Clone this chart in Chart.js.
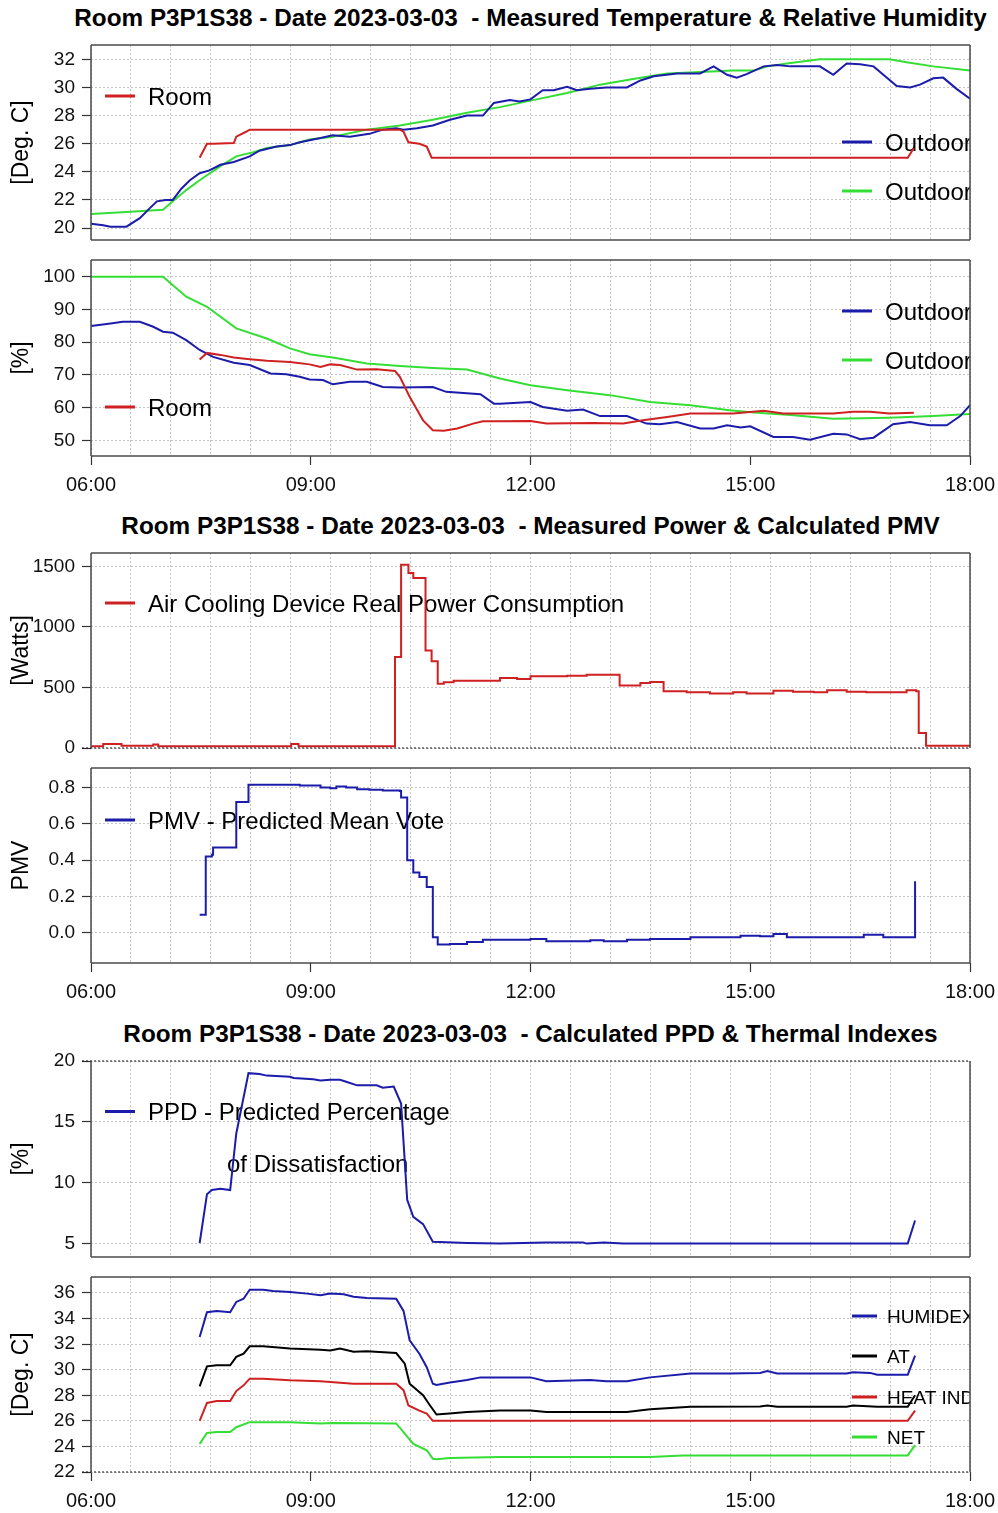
<!DOCTYPE html>
<html><head><meta charset="utf-8">
<script src="https://cdn.jsdelivr.net/npm/chart.js@4.4.0/dist/chart.umd.min.js"></script>
<style>
html,body{margin:0;padding:0;background:#fff;}
body{width:998px;height:1513px;position:relative;overflow:hidden;font-family:'Liberation Sans',Arial,sans-serif;}
.title{position:absolute;left:0;width:1061px;text-align:center;font-weight:bold;font-size:24.3px;line-height:28px;white-space:pre;color:#000;}
.panel{position:absolute;left:0;width:1010px;}
</style></head><body>
<div class="title" style="top:4px">Room P3P1S38 - Date 2023-03-03  - Measured Temperature &amp; Relative Humidity</div>
<div class="title" style="top:512px">Room P3P1S38 - Date 2023-03-03  - Measured Power &amp; Calculated PMV</div>
<div class="title" style="top:1020px">Room P3P1S38 - Date 2023-03-03  - Calculated PPD &amp; Thermal Indexes</div>
<script>
// ---------- axis / tick data ----------
const X_MIN = 6, X_MAX = 18;
const xTickHours = [6, 9, 12, 15, 18];
const xTickLabels = ['06:00', '09:00', '12:00', '15:00', '18:00'];
const xGridHours = Array.from({length: 23}, (_, i) => 6 + i * 12 / 22);

const tempTicks = [20, 22, 24, 26, 28, 30, 32];
const rhTicks = [50, 60, 70, 80, 90, 100];
const powerTicks = [0, 500, 1000, 1500];
const pmvTicks = [0, 0.2, 0.4, 0.6, 0.8];
const ppdTicks = [5, 10, 15, 20];
const indexTicks = [22, 24, 26, 28, 30, 32, 34, 36];

// ---------- series ----------
const roomTempTime = ['07:29','07:35','07:40','07:57','07:59','08:07','08:10','10:13','10:16','10:20','10:29','10:35','10:39','17:09','17:14'];
const roomTempVal  = [25.0,26.0,26.0,26.05,26.5,26.85,27.0,27.0,26.85,26.1,26.0,25.8,25.0,25.0,25.7];

const outTempATime = ['06:00','06:10','06:16','06:29','06:40','06:48','06:54','07:01','07:07','07:14','07:21','07:29','07:37','07:46','07:57','08:10','08:18','08:32','08:43','08:51','09:08','09:18','09:32','09:48','09:59','10:10','10:16','10:27','10:40','10:54','11:08','11:21','11:30','11:43','11:51','12:00','12:10','12:19','12:30','12:38','12:49','13:02','13:19','13:30','13:41','14:00','14:19','14:30','14:41','14:49','14:57','15:11','15:22','15:33','15:57','16:08','16:19','16:30','16:41','16:49','17:00','17:11','17:19','17:30','17:38','17:49','18:00'];
const outTempAVal  = [20.3,20.2,20.1,20.1,20.7,21.4,21.9,22.0,22.0,22.8,23.4,23.9,24.1,24.5,24.7,25.1,25.5,25.8,25.9,26.1,26.4,26.6,26.5,26.7,27.0,27.1,27.0,27.1,27.3,27.7,28.0,28.0,28.9,29.1,29.0,29.15,29.8,29.8,30.05,29.8,29.9,30.0,30.0,30.5,30.8,31.0,31.0,31.5,30.9,30.7,30.95,31.5,31.6,31.5,31.5,30.9,31.7,31.65,31.5,30.9,30.1,30.0,30.2,30.65,30.7,29.9,29.2];

const outTempBTime = ['06:00','06:29','06:59','07:07','07:18','07:29','07:46','07:59','08:13','08:24','08:43','08:59','09:18','09:46','10:13','10:40','11:08','11:35','12:02','12:30','12:57','13:24','13:52','14:19','14:46','15:03','15:14','15:30','15:57','16:22','16:54','17:08','17:30','18:00'];
const outTempBVal  = [21.0,21.15,21.3,21.9,22.7,23.4,24.4,25.1,25.4,25.7,25.9,26.3,26.5,27.0,27.3,27.7,28.2,28.6,29.1,29.6,30.2,30.6,31.0,31.1,31.2,31.2,31.5,31.7,32.0,32.0,32.0,31.8,31.5,31.2];

const outRhATime = ['06:00','06:16','06:26','06:40','06:51','06:59','07:07','07:18','07:29','07:40','07:57','08:10','08:27','08:40','08:51','08:59','09:10','09:18','09:32','09:46','09:59','10:13','10:40','10:51','11:19','11:30','11:35','12:00','12:10','12:30','12:43','12:57','13:19','13:35','13:46','14:00','14:19','14:30','14:41','14:52','15:00','15:19','15:35','15:49','16:08','16:19','16:30','16:41','16:57','17:11','17:27','17:41','17:52','18:00'];
const outRhAVal  = [84.9,85.7,86.2,86.2,84.7,83.2,82.9,80.6,77.6,75.5,73.7,73.0,70.4,70.2,69.4,68.6,68.4,67.1,67.9,67.9,66.3,66.1,66.3,64.8,64.1,61.2,61.2,61.7,60.2,59.0,59.4,57.4,57.4,55.1,54.9,55.6,53.6,53.6,54.6,53.9,54.3,51.0,51.0,50.2,52.0,51.8,50.3,50.8,54.9,55.6,54.6,54.6,57.4,60.7];

const outRhBTime = ['06:00','06:59','07:18','07:35','07:59','08:24','08:43','08:59','09:18','09:46','10:13','10:40','11:08','11:35','12:00','12:30','13:05','13:38','14:11','14:43','15:03','15:33','16:08','16:54','17:30','18:00'];
const outRhBVal  = [100,100,93.9,90.8,84.2,81.1,78.1,76.3,75.3,73.5,72.7,72.1,71.6,68.9,66.8,65.3,63.8,61.7,60.7,59.2,58.5,57.7,56.6,56.9,57.4,58.0];

const roomRhTime = ['07:29','07:35','07:46','07:57','08:10','08:24','08:43','08:59','09:08','09:16','09:24','09:38','09:54','10:09','10:13','10:21','10:32','10:40','10:49','11:00','11:13','11:21','11:35','12:00','12:13','12:51','13:16','13:32','13:52','14:11','14:46','15:11','15:27','16:08','16:24','16:38','16:54','17:14'];
const roomRhVal  = [74.7,76.7,76.1,75.3,74.8,74.3,73.9,73.2,72.4,73.2,73.0,71.6,71.7,71.2,69.4,63.3,56.1,53.1,52.9,53.6,55.1,55.8,55.8,55.9,55.1,55.3,55.1,56.1,57.1,58.2,58.2,59.0,58.2,58.2,58.7,58.7,58.2,58.4];

const powerTime = ['06:00','06:10','06:25','06:51','06:55','08:44','08:50','10:09','10:14','10:20','10:24','10:34','10:39','10:44','10:49','10:57','11:35','11:49','12:00','12:30','12:46','13:13','13:30','13:38','13:49','14:08','14:27','14:46','14:57','15:19','15:35','15:52','16:03','16:19','16:35','17:08','17:16','17:18','17:24','18:00'];
const powerVal  = [14,33,19,28,14,33,14,751,1514,1445,1404,804,716,531,542,556,578,570,592,597,605,517,537,545,468,460,449,460,449,473,465,460,476,465,460,476,468,124,19,19];

const pmvTime = ['07:29','07:34','07:39','07:40','07:59','08:09','08:43','08:51','09:08','09:16','09:21','09:29','09:38','09:48','09:59','10:13','10:14','10:19','10:24','10:29','10:35','10:40','10:44','10:54','11:08','11:21','11:35','12:00','12:13','12:49','13:00','13:19','13:38','14:11','14:52','15:08','15:19','15:30','16:08','16:33','16:49','17:15'];
const pmvVal  = [0.10,0.42,0.43,0.47,0.72,0.815,0.815,0.81,0.80,0.796,0.805,0.80,0.79,0.787,0.783,0.78,0.745,0.40,0.333,0.307,0.253,-0.024,-0.064,-0.06,-0.05,-0.037,-0.037,-0.033,-0.046,-0.04,-0.046,-0.037,-0.033,-0.024,-0.015,-0.018,-0.005,-0.024,-0.024,-0.01,-0.024,0.284];

const ppdTime = ['07:29','07:35','07:39','07:46','07:54','07:59','08:09','08:18','08:24','08:43','08:46','09:02','09:08','09:16','09:24','09:29','09:38','09:54','09:59','10:08','10:14','10:19','10:24','10:32','10:40','11:08','11:35','12:13','12:43','12:46','13:00','13:16','17:09','17:15'];
const ppdVal  = [5.05,9.06,9.4,9.5,9.4,14.05,19.0,18.93,18.8,18.7,18.6,18.5,18.4,18.45,18.45,18.3,18.0,18.0,17.8,17.9,16.5,8.6,7.2,6.6,5.15,5.05,5.0,5.1,5.1,5.0,5.1,5.0,5.0,6.9];

const humidexTime = ['07:29','07:35','07:43','07:54','07:59','08:05','08:10','08:21','08:29','08:43','08:57','09:08','09:16','09:27','09:35','09:46','10:10','10:16','10:21','10:29','10:35','10:40','10:43','10:54','11:08','11:19','11:35','12:00','12:13','12:49','13:02','13:19','13:38','14:11','14:43','15:08','15:14','15:22','16:19','16:24','16:38','16:44','17:09','17:15'];
const humidexVal  = [32.56,34.5,34.6,34.5,35.3,35.55,36.26,36.26,36.15,36.08,35.95,35.82,35.95,35.9,35.7,35.6,35.55,34.6,32.3,31.25,30.2,28.9,28.8,29.0,29.2,29.4,29.4,29.4,29.1,29.2,29.1,29.1,29.4,29.7,29.7,29.75,29.9,29.7,29.7,29.8,29.75,29.6,29.6,31.1];

const atTime = ['07:29','07:35','07:43','07:54','07:59','08:05','08:10','08:21','08:43','09:08','09:16','09:24','09:35','09:46','10:10','10:17','10:21','10:32','10:37','10:43','10:51','11:08','11:35','12:00','12:13','13:19','13:38','14:11','15:08','15:14','15:22','16:19','16:24','16:44','17:09','17:15'];
const atVal  = [28.7,30.26,30.34,30.34,31.0,31.25,31.83,31.83,31.65,31.57,31.5,31.65,31.4,31.45,31.3,30.47,28.9,28.0,27.3,26.5,26.56,26.7,26.8,26.8,26.7,26.7,26.9,27.1,27.13,27.2,27.1,27.1,27.2,27.1,27.1,28.0];

const heatIndexTime = ['07:29','07:35','07:43','07:54','07:59','08:05','08:10','08:21','08:43','09:08','09:35','10:10','10:16','10:20','10:29','10:35','10:40','17:09','17:15'];
const heatIndexVal  = [26.0,27.4,27.55,27.55,28.33,28.78,29.3,29.3,29.17,29.1,28.9,28.9,28.4,27.2,26.8,26.56,26.0,26.0,26.8];

const netTime = ['07:29','07:35','07:43','07:54','07:59','08:10','08:43','09:08','09:18','10:10','10:17','10:24','10:35','10:40','10:43','10:54','11:35','13:38','14:05','17:09','17:15'];
const netVal  = [24.2,25.05,25.13,25.13,25.5,25.9,25.9,25.8,25.83,25.8,25.0,24.2,23.7,23.04,23.0,23.1,23.17,23.17,23.3,23.3,24.1];

// ---------- helpers ----------
const C_RED = '#cf2121', C_BLUE = '#1c1caa', C_GREEN = '#35de35', C_BLACK = '#000000';
const GRID_COLOR = '#c4c4c4';
const FONT = "'Liberation Sans', Arial, sans-serif";
function toH(t){ const p = t.split(':').map(Number); return p[0] + p[1] / 60; }
function pts(times, vals){ return times.map((t, i) => ({x: toH(t), y: vals[i]})); }

Chart.defaults.font.family = FONT;
Chart.defaults.color = '#000';

const legendPlugin = {
  id: 'rlegend',
  beforeDatasetsDraw(chart, args, opts) {
    const items = opts.items || [];
    const {ctx, chartArea: {left, top, right, bottom}} = chart;
    ctx.save();
    ctx.beginPath(); ctx.rect(left, top, right - left, bottom - top); ctx.clip();
    for (const it of items) {
      const ds = chart.data.datasets[it.ds];
      const y = top + it.dy;
      if (it.len) {
        ctx.strokeStyle = ds.borderColor; ctx.lineWidth = 3; ctx.setLineDash([]);
        ctx.beginPath(); ctx.moveTo(left + it.dx, y); ctx.lineTo(left + it.dx + it.len, y); ctx.stroke();
      }
      ctx.font = it.size + 'px ' + FONT;
      ctx.fillStyle = '#000'; ctx.textAlign = 'left'; ctx.textBaseline = 'alphabetic';
      ctx.fillText(it.text !== undefined ? it.text : ds.label, left + it.tx, y + 0.36 * it.size);
    }
    ctx.restore();
  }
};

const framePlugin = {
  id: 'frame',
  afterDatasetsDraw(chart, args, opts) {
    const dotted = opts.dotted || [];
    const {ctx, chartArea: {left, right, top, bottom}} = chart;
    const sides = {
      left: [left, top, left, bottom], right: [right, top, right, bottom],
      top: [left, top, right, top], bottom: [left, bottom, right, bottom]
    };
    ctx.save();
    for (const s of ['top', 'bottom', 'left', 'right']) {
      let [x1, y1, x2, y2] = sides[s];
      ctx.beginPath();
      if (dotted.includes(s)) {
        ctx.setLineDash([2, 2]); ctx.strokeStyle = '#111'; ctx.lineWidth = 1; x1 -= 9;
      } else {
        ctx.setLineDash([]); ctx.strokeStyle = '#4a4a4a'; ctx.lineWidth = 1.5;
      }
      ctx.moveTo(x1, y1); ctx.lineTo(x2, y2); ctx.stroke();
    }
    ctx.restore();
  }
};

function makePanel(cfg) {
  const PAD_T = 20, PAD_B = 20, XLAB_H = 45, PAD_R = 40;
  const div = document.createElement('div');
  div.className = 'panel';
  div.style.top = (cfg.boxTop - PAD_T) + 'px';
  div.style.height = ((cfg.boxBottom - cfg.boxTop) + PAD_T + (cfg.labeled ? XLAB_H : PAD_B)) + 'px';
  const cv = document.createElement('canvas');
  div.appendChild(cv);
  document.body.appendChild(div);
  new Chart(cv, {
    type: 'line',
    data: {
      datasets: cfg.datasets.map(d => ({
        label: d.label, data: d.data, borderColor: d.color, backgroundColor: d.color,
        borderWidth: 2, pointRadius: 0, stepped: d.stepped || false, fill: false, tension: 0,
        xAxisID: 'x', yAxisID: 'y'
      }))
    },
    options: {
      responsive: true, maintainAspectRatio: false, animation: false, events: [],
      layout: {padding: {top: PAD_T, left: 0, right: PAD_R, bottom: cfg.labeled ? 0 : PAD_B}},
      plugins: {legend: {display: false}, tooltip: {enabled: false},
        frame: {dotted: cfg.dotted || []}, rlegend: {items: cfg.legend}},
      scales: {
        x: {
          type: 'linear', min: X_MIN, max: X_MAX, position: 'bottom',
          afterBuildTicks: s => { s.ticks = xGridHours.map(v => ({value: v})); },
          afterFit: s => { s.height = 0; },
          ticks: {display: false},
          grid: {color: GRID_COLOR, lineWidth: 1, drawTicks: false},
          border: {display: false, dash: [2, 2]}
        },
        x2: {
          type: 'linear', min: X_MIN, max: X_MAX, position: 'bottom', display: cfg.labeled,
          afterBuildTicks: s => { s.ticks = xTickHours.map(v => ({value: v})); },
          afterFit: s => { s.height = cfg.labeled ? XLAB_H : 0; },
          ticks: {autoSkip: false, maxRotation: 0, minRotation: 0, padding: 8, font: {size: 20}, color: '#111',
            callback: v => xTickLabels[xTickHours.indexOf(v)]},
          grid: {drawOnChartArea: false, drawTicks: true, tickLength: 9, tickColor: '#333', tickWidth: 1.2, tickBorderDash: []},
          border: {display: false}
        },
        y: {
          type: 'linear', min: cfg.yMin, max: cfg.yMax, position: 'left',
          afterBuildTicks: s => { s.ticks = cfg.yTicks.map(v => ({value: v})); },
          afterFit: s => { s.width = 91; },
          ticks: {padding: 7, font: {size: 19}, color: '#111', callback: cfg.yFmt || (v => String(v))},
          grid: {color: GRID_COLOR, lineWidth: 1, drawTicks: true, tickLength: 9, tickColor: '#333', tickWidth: 1.2, tickBorderDash: []},
          border: {display: false, dash: [2, 2]},
          title: {display: true, text: cfg.yTitle, font: {size: 23}, color: '#000', padding: {top: 8, bottom: 0}}
        }
      }
    },
    plugins: [legendPlugin, framePlugin]
  });
}

// Panel 1: temperature
makePanel({
  boxTop: 45, boxBottom: 240, labeled: false, yMin: 19.15, yMax: 33.02, yTicks: tempTicks, yTitle: '[Deg. C]',
  datasets: [
    {label: 'Room', data: pts(roomTempTime, roomTempVal), color: C_RED},
    {label: 'Outdoor', data: pts(outTempATime, outTempAVal), color: C_BLUE},
    {label: 'Outdoor', data: pts(outTempBTime, outTempBVal), color: C_GREEN}
  ],
  legend: [
    {ds: 0, dx: 14, len: 30, tx: 57, dy: 51, size: 24},
    {ds: 1, dx: 751, len: 30, tx: 794, dy: 97, size: 24},
    {ds: 2, dx: 751, len: 30, tx: 794, dy: 146, size: 24}
  ]
});

// Panel 2: relative humidity
makePanel({
  boxTop: 260, boxBottom: 456, labeled: true, yMin: 45.2, yMax: 105.1, yTicks: rhTicks, yTitle: '[%]',
  datasets: [
    {label: 'Room', data: pts(roomRhTime, roomRhVal), color: C_RED},
    {label: 'Outdoor', data: pts(outRhATime, outRhAVal), color: C_BLUE},
    {label: 'Outdoor', data: pts(outRhBTime, outRhBVal), color: C_GREEN}
  ],
  legend: [
    {ds: 1, dx: 751, len: 30, tx: 794, dy: 51, size: 24},
    {ds: 2, dx: 751, len: 30, tx: 794, dy: 100, size: 24},
    {ds: 0, dx: 14, len: 30, tx: 57, dy: 147, size: 24}
  ]
});

// Panel 3: power
makePanel({
  boxTop: 553, boxBottom: 748, labeled: false, yMin: 0, yMax: 1610, yTicks: powerTicks, yTitle: '[Watts]',
  dotted: ['bottom'],
  datasets: [
    {label: 'Air Cooling Device Real Power Consumption', data: pts(powerTime, powerVal), color: C_RED, stepped: true}
  ],
  legend: [{ds: 0, dx: 14, len: 30, tx: 57, dy: 50, size: 24}]
});

// Panel 4: PMV
makePanel({
  boxTop: 768, boxBottom: 963, labeled: true, yMin: -0.165, yMax: 0.9066, yTicks: pmvTicks, yTitle: 'PMV',
  yFmt: v => Number(v).toFixed(1),
  datasets: [
    {label: 'PMV - Predicted Mean Vote', data: pts(pmvTime, pmvVal), color: C_BLUE, stepped: true}
  ],
  legend: [{ds: 0, dx: 14, len: 30, tx: 57, dy: 52, size: 24}]
});

// Panel 5: PPD
makePanel({
  boxTop: 1061, boxBottom: 1257, labeled: false, yMin: 3.9, yMax: 20, yTicks: ppdTicks, yTitle: '[%]',
  dotted: ['top'],
  datasets: [
    {label: 'PPD - Predicted Percentage of Dissatisfaction', data: pts(ppdTime, ppdVal), color: C_BLUE}
  ],
  legend: [
    {ds: 0, dx: 14, len: 30, tx: 57, dy: 50.5, size: 24, text: 'PPD - Predicted Percentage'},
    {ds: 0, tx: 136, dy: 102, size: 24, text: 'of Dissatisfaction'}
  ]
});

// Panel 6: thermal indexes
makePanel({
  boxTop: 1277, boxBottom: 1472, labeled: true, yMin: 22, yMax: 37.25, yTicks: indexTicks, yTitle: '[Deg. C]',
  dotted: ['bottom'],
  datasets: [
    {label: 'HUMIDEX', data: pts(humidexTime, humidexVal), color: C_BLUE},
    {label: 'AT', data: pts(atTime, atVal), color: C_BLACK},
    {label: 'HEAT INDEX', data: pts(heatIndexTime, heatIndexVal), color: C_RED},
    {label: 'NET', data: pts(netTime, netVal), color: C_GREEN}
  ],
  legend: [
    {ds: 0, dx: 761, len: 25, tx: 796, dy: 39, size: 19},
    {ds: 1, dx: 761, len: 25, tx: 796, dy: 79, size: 19},
    {ds: 2, dx: 761, len: 25, tx: 796, dy: 120, size: 19},
    {ds: 3, dx: 761, len: 25, tx: 796, dy: 160, size: 19}
  ]
});
</script>
</body></html>
